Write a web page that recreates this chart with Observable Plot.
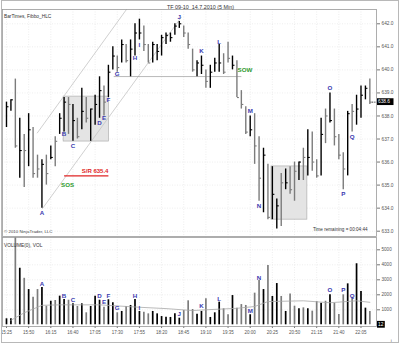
<!DOCTYPE html>
<html><head><meta charset="utf-8">
<script src="https://cdn.jsdelivr.net/npm/d3@7"></script>
<script src="https://cdn.jsdelivr.net/npm/@observablehq/plot@0.6"></script>
<style>
body{margin:0;background:#fff;}
#chart{position:relative;width:400px;height:345px;overflow:hidden;background:#fff;}
#chart svg{display:block;overflow:visible;}
#border{position:absolute;left:1px;top:0;width:398px;height:343px;box-sizing:border-box;border:1px solid #b8b8b8;pointer-events:none;}
</style></head><body><div id="chart"><div id="border"></div></div>
<script>
// ---- data (bar index 0 = 15:25, 5-minute bars) ----
const highs = [638.6,638.7,639.6,637.9,637.2,638.1,637.5,636.3,636.1,636.3,636.7,637.1,638.1,638.8,638.8,638.5,637.9,639.2,638.8,638.3,638.9,639.7,639.3,640.2,641.0,640.6,641.3,641.1,641.3,642.0,642.2,641.9,641.1,641.2,641.1,641.5,641.6,641.6,642.0,642.1,641.9,641.6,640.9,640.4,640.6,640.0,640.2,640.5,641.1,640.7,641.2,640.6,640.4,639.1,638.4,638.0,638.1,637.1,636.6,635.9,635.8,634.4,635.5,635.7,635.8,636.0,636.0,636.6,637.4,637.3,636.1,637.9,638.3,639.0,638.3,637.2,636.4,638.2,638.5,638.9,639.3,639.3,639.6];
const lows = [637.5,638.2,636.6,635.3,634.9,635.8,635.3,635.3,634.0,635.0,636.1,635.8,637.2,637.3,637.2,636.9,637.0,637.4,637.7,636.9,637.6,637.9,638.0,638.8,640.0,639.9,640.3,640.3,639.7,640.6,641.3,640.8,640.3,640.3,640.4,640.6,641.1,641.2,641.5,641.8,641.4,640.9,639.9,639.7,639.8,639.2,639.2,639.9,639.9,639.8,640.3,640.0,638.8,638.3,637.2,637.1,635.9,634.3,633.8,633.5,633.5,633.1,633.2,634.8,634.6,634.3,635.2,635.2,635.4,635.6,635.3,635.4,636.8,637.7,636.7,636.1,634.8,635.4,637.3,637.6,637.9,638.7,638.5];
const closes = [638.4,638.7,636.7,636.5,636.5,637.4,635.5,635.7,635.9,635.5,636.2,636.9,637.9,638.6,638.5,637.8,637.1,638.2,637.9,638.3,638.5,639.1,638.6,639.9,640.6,640.1,641.1,640.4,640.9,641.6,641.6,641.1,640.3,641.1,640.8,641.4,641.5,641.4,641.9,642.0,641.6,641.1,640.0,640.3,640.2,639.5,639.9,640.3,640.3,639.9,640.5,640.2,638.8,638.5,637.3,637.4,636.7,635.3,636.3,633.6,634.6,634.1,635.1,635.1,634.8,635.6,636.0,636.2,636.2,636.0,635.4,637.2,638.0,637.8,637.1,636.3,635.7,638.1,638.2,638.3,638.9,639.2,638.6];
const opens = [637.8,638.3,639.4,635.6,637.0,636.0,637.2,636.2,634.4,636.2,636.1,637.0,637.3,637.5,638.7,637.2,637.7,637.6,638.6,637.2,637.8,638.2,639.1,639.0,640.1,640.5,640.4,641.0,640.0,640.8,641.4,641.7,641.0,640.5,640.5,640.8,641.2,641.3,641.6,641.9,641.8,641.5,640.8,639.9,639.9,639.9,639.4,640.0,640.0,640.5,641.0,640.0,640.2,639.0,638.2,637.2,637.9,636.8,634.5,635.6,634.0,633.4,635.4,634.9,635.5,635.9,635.4,636.5,635.6,637.0,636.0,635.6,638.2,637.7,638.0,637.0,636.2,635.6,638.4,637.8,638.0,638.8,639.3];
const volumes = [400,400,6000,3770,3100,2350,1840,2350,2490,1240,1570,1620,1910,1690,1640,1400,1220,1400,800,1220,1910,1640,1170,1670,1470,800,890,1220,1290,1690,890,840,730,890,730,550,510,490,730,440,950,1600,1020,710,890,1730,490,800,1510,1070,670,1950,1110,1350,1290,670,2110,2950,2350,3950,1890,2750,1890,890,2060,1240,1070,1130,1070,910,1550,1440,1570,2000,1440,690,2000,2730,1840,4070,2220,1110,890];
// volume average line, read at points (bar index, value)
const volAvgIdx = [1,4,8,12,21,30,36,42,45,52,56,59,67,73,79,82];
const volAvgVal = [300,800,1300,1330,1330,1170,1080,950,1000,1100,1220,1550,1600,1470,1600,1500];

const timeIdx = [0,5,10,15,20,25,30,35,40,45,50,55,60,65,70,75,80];
const timeLabels = ["15:25","15:50","16:15","16:40","17:05","17:30","17:55","18:20","18:45","19:10","19:35","20:00","20:25","20:50","21:15","21:40","22:05"];
const priceTicks = [633,634,635,636,637,638,639,640,641,642];
const volTicks = [1000,2000,3000,4000,5000];

// annotations
const letters = ["A","B","C","D","E","F","G","H","I","J","K","L","M","N","O","P","Q"];
const letterIdx = [8,13,15,21,22,23,25,29,30,39,44,48,55,57,73,76,78];
const letterPrice = [633.8,637.2,636.7,637.7,637.9,638.7,639.8,640.5,641.1,642.3,640.8,641.2,638.2,634.1,639.2,634.6,637.1];
const letterVol = [2690,1890,1620,1890,1490,1950,1090,1890,1150,750,1220,1750,950,3150,2290,2290,1890];
const boxIdx1 = [12.9,59.8], boxIdx2 = [23.1,67.9], boxTop = [638.84,635.81], boxBottom = [636.89,633.5];
const channelX1 = [8,6.9], channelY1 = [633.95,637.25], channelX2 = [39.5,30], channelY2 = [642.3,643.4];
const levelX1 = 24.2, levelX2 = 53, levelPrice = 639.71;
const srX1 = 13, srX2 = 23, srPrice = 635.4, srLabel = "S/R 635.4";
const notes = ["SOS","SOW"], noteIdx = [13.8,53.8], notePrice = [635.0,640.0];
const currentVolLabel = "12";

// ---- build tables ----
const bars = highs.map((h,i)=>({i, high:h, low:lows[i], close:closes[i], open:opens[i], vol:volumes[i], up: closes[i] >= opens[i]}));
const barColor = d => d.up ? "#000" : "#7c7c7c";
const lbl = letters.map((t,k)=>({t, i:letterIdx[k], p:letterPrice[k], v:letterVol[k]}));
const boxes = boxIdx1.map((x,k)=>({x1:x, x2:boxIdx2[k], y1:boxBottom[k], y2:boxTop[k]}));
const chans = channelX1.map((x,k)=>({x1:x, y1:channelY1[k], x2:channelX2[k], y2:channelY2[k]}));
const avg = volAvgIdx.map((x,k)=>({i:x, v:volAvgVal[k]}));
const last = bars[bars.length-1];
const xDomain = [-0.9, 83.5];
const font = "Liberation Sans, Arial, sans-serif";
const blue = "#3a3ab0", green = "#2f9a2f", red = "#e02424";

const price = Plot.plot({
  width: 400, height: 237,
  marginLeft: 2, marginRight: 24, marginTop: 9, marginBottom: 1,
  x: {domain: xDomain, axis: null},
  y: {domain: [632.77, 642.62], axis: null},
  style: {fontFamily: font, background: "transparent"},
  marks: [
    Plot.ruleX(timeIdx, {stroke: "#e2e2e2", strokeWidth: 0.6, strokeDasharray: "1,1.5"}),
    Plot.ruleY(priceTicks, {stroke: "#e2e2e2", strokeWidth: 0.6, strokeDasharray: "1,1.5"}),
    Plot.rect(boxes, {x1:"x1", x2:"x2", y1:"y1", y2:"y2", fill:"#e4e4e4", stroke:"#b0b0b0", strokeWidth:0.7}),
    Plot.link(chans, {x1:"x1", y1:"y1", x2:"x2", y2:"y2", stroke:"#c4c4c4", strokeWidth:0.8, clip:true}),
    Plot.link([levelPrice], {x1: ()=>levelX1, x2: ()=>levelX2, y1: d=>d, y2: d=>d, stroke:"#9a9a9a", strokeWidth:0.7}),
    Plot.link([srPrice], {x1: ()=>srX1, x2: ()=>srX2, y1: d=>d, y2: d=>d, stroke:red, strokeWidth:1.2}),
    Plot.ruleX(bars, {x:"i", y1:"low", y2:"high", stroke: barColor, strokeWidth:1.4}),
    Plot.link(bars, {x1:"i", x2: d=>d.i+0.45, y1:"close", y2:"close", stroke: barColor, strokeWidth:1.1}),
    Plot.link([last], {x1: d=>d.i+0.5, x2: ()=>xDomain[1], y1:"close", y2:"close", stroke:"#000", strokeWidth:0.8, strokeDasharray:"1.2,1"}),
    Plot.text(lbl, {x:"i", y:"p", text:"t", fill: blue, fontSize: 6.2, fontWeight: "bold"}),
    Plot.text(notes, {x:(d,k)=>noteIdx[k], y:(d,k)=>notePrice[k], text: d=>d, fill: green, fontSize: 6.2, fontWeight: "bold"}),
    Plot.text([srLabel], {x: ()=>srX2, y: ()=>srPrice, text: d=>d, fill: red, fontSize: 6, fontWeight:"bold", textAnchor:"end", dy:-4.5}),
    Plot.axisY(priceTicks, {anchor:"right", tickSize:3, tickPadding:2, fontSize:4.8, tickFormat: d=>d.toFixed(1), stroke:"#777", fill:"#555"}),
    Plot.frame({stroke:"#9a9a9a", strokeWidth:0.8}),
    Plot.text(["TF 09-10\u00a0\u00a014.7.2010 (5 Min)"], {frameAnchor:"top", dx:11, dy:-4.5, fontSize:5.4, fill:"#333"}),
    Plot.text(["BarTimes, Fibbo_HLC"], {frameAnchor:"top-left", dx:1.5, dy:5, fontSize:4.8, fill:"#333", textAnchor:"start"}),
    Plot.text(["\u00a9 2010 NinjaTrader, LLC"], {frameAnchor:"bottom-left", dx:1.5, dy:-4, fontSize:4.4, fill:"#444", textAnchor:"start"}),
    Plot.text(["Time remaining = 00:04:44"], {frameAnchor:"bottom-right", dx:-9, dy:-6, fontSize:4.6, fill:"#333", textAnchor:"end"})
  ]
});

const vol = Plot.plot({
  width: 400, height: 108,
  marginLeft: 2, marginRight: 24, marginTop: 0, marginBottom: 19,
  x: {domain: xDomain, axis: null},
  y: {domain: [-113, 5820], axis: null},
  style: {fontFamily: font, background: "transparent"},
  marks: [
    Plot.ruleX(timeIdx, {stroke: "#e2e2e2", strokeWidth: 0.6, strokeDasharray: "1,1.5"}),
    Plot.ruleY(volTicks, {stroke: "#e2e2e2", strokeWidth: 0.6, strokeDasharray: "1,1.5"}),
    Plot.ruleX(bars, {x:"i", y1:0, y2:"vol", stroke: barColor, strokeWidth:1.7, clip:true}),
    Plot.line(avg, {x:"i", y:"v", stroke:"#a8a8a8", strokeWidth:0.8}),
    Plot.text(lbl, {x:"i", y:"v", text:"t", fill: blue, fontSize: 6.2, fontWeight: "bold"}),
    Plot.axisY(volTicks, {anchor:"right", tickSize:3, tickPadding:2, fontSize:4.6, tickFormat: d=>String(d), stroke:"#777", fill:"#555"}),
    Plot.axisX(timeIdx, {anchor:"bottom", tickSize:2, tickPadding:2, fontSize:4.5, tickFormat: d=>timeLabels[timeIdx.indexOf(d)], stroke:"#777", fill:"#555"}),
    Plot.frame({stroke:"#9a9a9a", strokeWidth:0.8}),
    Plot.text(["VOLUME(0), VOL"], {frameAnchor:"top-left", dx:1.5, dy:6, fontSize:4.8, fill:"#333", textAnchor:"start"})
  ]
});

const chart = document.getElementById("chart");
chart.appendChild(price);
chart.appendChild(vol);

// current-value boxes on the right axes
function valueBox(svg, yPix, text) {
  const g = d3.select(svg).append("g").attr("text-anchor", "start");
  g.append("rect").attr("x", 377).attr("y", yPix - 3.4).attr("width", text.length * 2.9 + 2).attr("height", 6.8).attr("fill", "#000");
  g.append("text").attr("x", 378).attr("y", yPix).attr("dy", "0.35em").attr("fill", "#fff").attr("text-anchor", "start")
    .attr("font-size", 4.8).attr("font-family", font).text(text);
}
valueBox(price, price.scale("y").apply(last.close), last.close.toFixed(1));
valueBox(vol, vol.scale("y").apply(0), currentVolLabel);
</script>
</body></html>
